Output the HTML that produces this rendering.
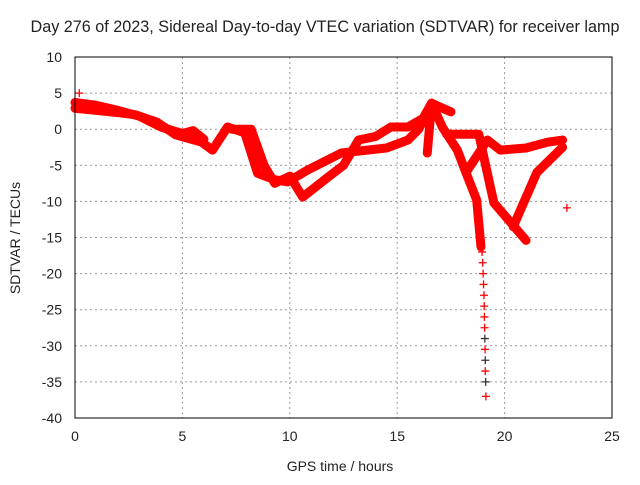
<!DOCTYPE html>
<html><head><meta charset="utf-8"><style>
body{margin:0;background:#fff}
text{font-family:"Liberation Sans",sans-serif;font-size:14px;fill:#222}
</style></head><body>
<svg id="c" width="640" height="480">
<text x="325" y="32" text-anchor="middle" style="font-size:16.2px">Day 276 of 2023, Sidereal Day-to-day VTEC variation (SDTVAR) for receiver lamp</text>
<text x="340" y="471" text-anchor="middle">GPS time / hours</text>
<text x="0" y="0" transform="translate(20,238) rotate(-90)" text-anchor="middle">SDTVAR / TECUs</text>
<g id="grid"></g><g id="marks"></g>
<rect x="75" y="57" width="537" height="361" fill="none" stroke="#000"/>
</svg>
<script>
const xTicks=[0,5,10,15,20,25];
const yTicks=[10,5,0,-5,-10,-15,-20,-25,-30,-35,-40];
const track1=[[0,2.9],[1,2.6],[2,2.3],[2.8,2.0],[3.8,1],[4.7,-0.8],[5.9,-1.8],[6.4,-2.9],[7.1,0.3],[7.9,-0.5],[8.5,-6.1],[9.3,-7],[9.9,-7.3],[10.8,-5.7],[12.4,-3.3],[13.6,-2.9],[14.5,-2.6],[15.5,-1.5],[16,0],[16.6,3.6]];
const track1b=[[0,3.7],[1,3.3],[2,2.6],[3,1.8],[4,0.3],[5,-0.6],[5.5,-0.2],[6,-1.4]];
const track2=[[7.3,0],[8.2,0],[8.8,-5],[9.3,-7.5],[10,-6.5],[10.6,-9.4],[11.8,-6.6],[12.5,-5],[13.2,-1.5],[14,-1],[14.7,0.3],[15.5,0.3],[16.2,1.5],[16.6,3.6],[17.1,0.3],[17.8,-2.9],[18.2,-6],[18.7,-9.8],[18.9,-16.3]];
const track3=[[16.4,-3.3],[16.6,3.6],[17.5,2.4]];
const track4=[[17.3,-0.7],[18.8,-0.7],[19.5,-10.2],[21.0,-15.4]];
const track5=[[18.2,-6],[19.2,-1.5],[19.8,-2.9],[21,-2.6],[22,-1.8],[22.7,-1.5]];
const track6=[[22.7,-2.5],[21.5,-6],[20.4,-13.5]];
const tailHours=[18.95,18.98,19.0,19.02,19.04,19.05,19.06,19.07,19.08,19.09,19.1,19.1,19.12,19.13];
const tailValues=[-17,-18.5,-20,-21.5,-23,-24.5,-26,-27.5,-29,-30.5,-32,-33.5,-35,-37];
const isolated=[[22.9,-10.9],[0.2,5]];
const NS='http://www.w3.org/2000/svg';
const X=h=>75+h*537/25, Y=v=>57+(10-v)*361/50;
const grid=document.getElementById('grid'), marks=document.getElementById('marks');
function mk(tag,attrs,parent){const e=document.createElementNS(NS,tag);for(const k in attrs)e.setAttribute(k,attrs[k]);parent.appendChild(e);return e;}
xTicks.forEach(t=>{
 if(t>0&&t<25){const l=mk('line',{x1:X(t),x2:X(t),y1:57,y2:418,stroke:'#999','stroke-dasharray':'2,3'},grid);
 
 }
 const tx=mk('text',{x:X(t),y:441,'text-anchor':'middle'},grid);tx.textContent=t;
 
 
});
yTicks.forEach(t=>{
 if(t>-40&&t<10){const l=mk('line',{x1:75,x2:612,y1:Y(t),y2:Y(t),stroke:'#999','stroke-dasharray':'2,3'},grid);
 
 }
 const tx=mk('text',{x:62,y:Y(t)+5,'text-anchor':'end'},grid);tx.textContent=t;
 
 
});
function plus(h,v,col){const p=mk('path',{d:`M${X(h)-4},${Y(v)}h8M${X(h)},${Y(v)-4}v8`,stroke:col,'stroke-width':1.3},marks);
 
 }
[track1,track1b,track2,track3,track4,track5,track6].forEach((tr,i)=>{
 const pl=mk('polyline',{points:tr.map(p=>X(p[0])+','+Y(p[1])).join(' '),fill:'none',stroke:'#f00','stroke-width':9,'stroke-linejoin':'round','stroke-linecap':'round'},marks);
 
 
 tr.forEach(p=>plus(p[0],p[1],'#f00'));
});
tailHours.forEach((h,i)=>plus(h,tailValues[i],i>7&&i%2==0?'#333':'#f00'));
isolated.forEach(p=>plus(p[0],p[1],'#f00'));
</script>
</body></html>
